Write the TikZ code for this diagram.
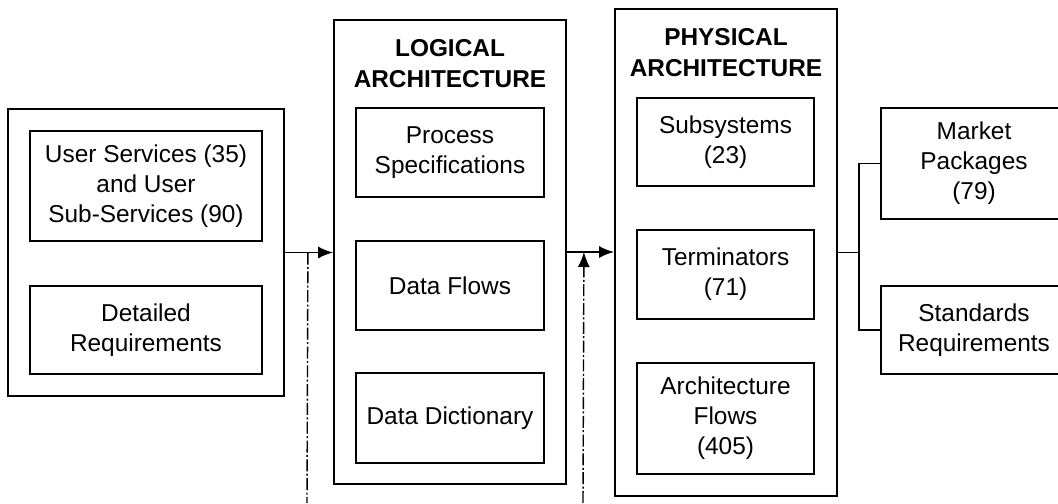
\documentclass[tikz,border=0pt]{standalone}
\usepackage{fontspec}
\setmainfont{Liberation Sans}
\usetikzlibrary{arrows.meta}

\begin{document}
\begin{tikzpicture}[x=.5pt, y=-.5pt, line width=.9pt]
    \tikzstyle{grp}=[draw, inner sep=0pt]
    \tikzstyle{itm}=[draw, align=center, inner sep=0pt, font=\fontsize{12.2}{15}\selectfont]
    \tikzstyle{ttl}=[align=center, inner sep=0pt, font=\fontsize{12.2}{15.5}\selectfont\bfseries]
    \tikzstyle{dd}=[line width=.7pt, dash pattern=on 6pt off 1.2pt on 1pt off 1.2pt]
    \tikzstyle{tip}=[-{Latex[length=7.5pt,width=6pt]}]
    \useasboundingbox (0,0) rectangle (1058,503);

    % user services
    \node[grp, minimum width=138pt, minimum height=143.5pt] (usr) at (146,252.5) {};
    \node[itm, minimum width=116pt, minimum height=55pt] (svc) at (146,186) {User Services (35)\\and User\\Sub-Services (90)};
    \node[itm, minimum width=116pt, minimum height=44pt] (req) at (146,330) {Detailed\\Requirements};

    % logical architecture
    \node[grp, minimum width=116pt, minimum height=232pt] (lgc) at (450,252) {};
    \node[ttl] (lgcT) at (450,63.5) {LOGICAL\\ARCHITECTURE};
    \node[itm, minimum width=94pt, minimum height=44.5pt] (prc) at (450,152.5) {Process\\Specifications};
    \node[itm, minimum width=94pt, minimum height=44.5pt] (dfl) at (450,285.5) {Data Flows};
    \node[itm, minimum width=94pt, minimum height=45pt] (ddc) at (450,418) {Data Dictionary};

    % physical architecture
    \node[grp, minimum width=111pt, minimum height=243.5pt] (phy) at (726,252.5) {};
    \node[ttl] (phyT) at (726,53) {PHYSICAL\\ARCHITECTURE};
    \node[itm, minimum width=88.5pt, minimum height=44pt] (sub) at (725.5,142) {Subsystems\\(23)};
    \node[itm, minimum width=88.5pt, minimum height=44.5pt] (trm) at (725.5,274.5) {Terminators\\(71)};
    \node[itm, minimum width=88.5pt, minimum height=55.5pt] (afl) at (725.5,418.5) {Architecture\\Flows\\(405)};

    % market packages, standards
    \node[itm, minimum width=93pt, minimum height=55.5pt] (mkt) at (974,163.5) {Market\\Packages\\(79)};
    \node[itm, minimum width=93pt, minimum height=44pt] (std) at (974,330) {Standards\\Requirements};

    \draw[tip] (usr.east) -- (usr.east -| lgc.west);
    \draw[tip] (lgc.east) -- (lgc.east -| phy.west);
    \draw (phy.east) -- ++(21,0) coordinate (brn);
    \draw (mkt.west) -| (brn) |- (std.west);

    \path (usr.east) -- ++(23,0) coordinate (tapL);
    \coordinate (endL) at (307,503);
    \draw[dd] (tapL) -- (endL);
    \path (lgc.east) -- ++(17,0) coordinate (tapR);
    \coordinate (endR) at (583,503);
    \draw[dd, tip] (endR) -- (tapR);
\end{tikzpicture}
\end{document}
